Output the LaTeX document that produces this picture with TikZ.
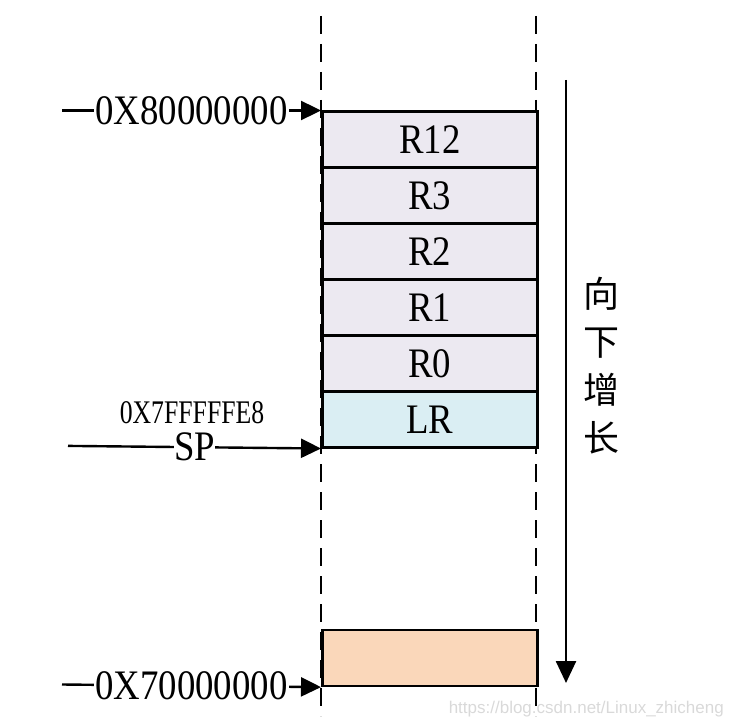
\documentclass[tikz,border=0pt]{standalone}
\usepackage{fontspec}
\setmainfont{Liberation Serif}
\newfontfamily\labfont[FakeStretch=0.876]{Liberation Serif}
\newfontfamily\smallfont[FakeStretch=0.78]{Liberation Serif}
\newfontfamily\cjk{Noto Sans CJK SC}
\newfontfamily\wmfont{Liberation Sans}
\usetikzlibrary{arrows.meta}
\definecolor{lav}{HTML}{ECE9F1}
\definecolor{lrc}{HTML}{DAEEF3}
\definecolor{org}{HTML}{FAD7BA}
\definecolor{wm}{HTML}{D9D9D9}
\tikzset{
  cell/.style={draw=black, line width=2.6pt, minimum width=215pt, minimum height=55.9pt, inner sep=0pt, anchor=north west, font=\labfont\fontsize{42}{42}\selectfont},
  guide/.style={line width=2.6pt, dash pattern=on 18pt off 10pt},
  ptr/.style={line width=2.4pt, -{Triangle[length=20pt,width=19pt]}},
  addr/.style={fill=white, inner sep=1pt, font=\labfont\fontsize{42}{42}\selectfont},
}
\begin{document}
\begin{tikzpicture}[x=1pt,y=-1pt]
\useasboundingbox (0,0) rectangle (733,727);
% dashed guides
\coordinate (gl1) at (321,16);
\coordinate (gl2) at (321,716);
\coordinate (gr1) at (536,16);
\coordinate (gr2) at (536,716);
\draw[guide] (gl1) -- (gl2);
\draw[guide] (gr1) -- (gr2);
% stack cells
\node[cell, fill=lav] (r12) at (321,110.5) {R12};
\node[cell, fill=lav] (r3) at (321,166.4) {R3};
\node[cell, fill=lav] (r2) at (321,222.3) {R2};
\node[cell, fill=lav] (r1) at (321,278.2) {R1};
\node[cell, fill=lav] (r0) at (321,334.1) {R0};
\node[cell, fill=lrc] (lr) at (321,390.0) {LR};
\node[cell, fill=org, minimum height=56pt] (bot) at (321,628.5) {};
% address arrows
\coordinate (a1) at (62,110.5);
\draw[ptr] (a1) -- node[addr] (t1) {0X80000000} (r12.north west);
\coordinate (a2) at (68,445.9);
\draw[ptr] (a2) -- node[addr, inner sep=0pt] (sp) {SP} (lr.south west);
\node[font=\smallfont\fontsize{33}{33}\selectfont, anchor=center] (t2) at (192,413) {0X7FFFFFE8};
\coordinate (a3) at (62,684.5);
\draw[ptr] (a3) -- node[addr] (t3) {0X70000000} (bot.south west);
% growth arrow
\coordinate (g1) at (566,80);
\coordinate (g2) at (566,683);
\draw[line width=2.6pt, -{Triangle[length=22pt,width=20pt]}] (g1) -- (g2);
\node[font=\cjk\fontsize{36}{48}\selectfont, align=center, inner sep=0pt] (grow) at (601,366) {向\\下\\增\\长};
% watermark
\node[font=\wmfont\fontsize{17}{17}\selectfont, text=wm, anchor=east, inner sep=0pt] (wmk) at (724,709) {https://blog.csdn.net/Linux\_zhicheng};
\end{tikzpicture}
\end{document}
